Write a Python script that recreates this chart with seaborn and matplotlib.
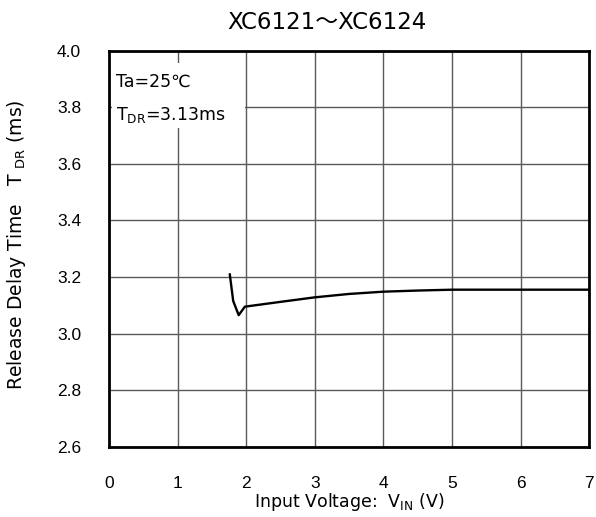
import numpy as np
import pandas as pd
import matplotlib
matplotlib.use("Agg")
import matplotlib.pyplot as plt
from matplotlib.patches import Rectangle
import seaborn as sns

# values
vin = [1.76, 1.81, 1.89, 1.98, 2.5, 3.0, 3.5, 4.0, 4.5, 5.0, 6.0, 7.0]
tdr = [3.21, 3.115, 3.065, 3.095, 3.112, 3.128, 3.14, 3.148, 3.152, 3.155, 3.155, 3.155]
x_ticks = [0, 1, 2, 3, 4, 5, 6, 7]
y_ticks = [2.6, 2.8, 3.0, 3.2, 3.4, 3.6, 3.8, 4.0]

sns.set_style("white")
plt.rcParams['font.family'] = ['Liberation Sans', 'DejaVu Sans']
plt.rcParams['text.color'] = 'black'
plt.rcParams['axes.labelcolor'] = 'black'
lab = ['DejaVu Sans', 'Noto Sans CJK JP']

df = pd.DataFrame({'vin': vin, 'tdr': tdr})

fig = plt.figure(figsize=(5.96, 5.17), dpi=100)
ax = fig.add_axes([0.1829, 0.136, 0.8059, 0.766])

ax.set_xlim(0, 7)
ax.set_ylim(2.6, 4.0)
ax.set_xticks(x_ticks)
ax.set_yticks(y_ticks)
ax.set_xticklabels([str(v) for v in x_ticks])
ax.set_yticklabels(['%.1f' % v for v in y_ticks])
ax.grid(True, color='#5a5a5a', linewidth=1.0)
ax.tick_params(axis='both', length=0, labelsize=12.5, colors='black')
ax.tick_params(axis='x', pad=21)
ax.tick_params(axis='y', pad=20)

for s in ax.spines.values():
    s.set_visible(True)
    s.set_color('black')
    s.set_linewidth(2)
    s.set_zorder(5)

sns.lineplot(data=df, x='vin', y='tdr', ax=ax, color='black', linewidth=1.7,
             estimator=None, sort=False)

ax.set_xlabel(r'Input Voltage:  V$\mathregular{_{IN}}$ (V)', family=lab, fontsize=12.5)
ax.xaxis.set_label_coords(0.5, -0.112)
ax.set_ylabel(r'Release Delay Time   T $\mathregular{_{DR}}$ (ms)', family=lab, fontsize=13.5)
ax.yaxis.set_label_coords(-0.168, 0.51)
fig.text(0.549, 0.957, 'XC6121～XC6124', family=lab, fontsize=16.5,
         ha='center', va='center')

# white patch behind the conditions text
ax.add_patch(Rectangle((0.006, 0.805), 0.277, 0.163, transform=ax.transAxes,
                       facecolor='white', edgecolor='none', zorder=3))
ax.text(0.015, 0.921, 'Ta=25℃', transform=ax.transAxes, ha='left', va='center',
        fontsize=12.5, family=lab, zorder=4)
ax.text(0.015, 0.838, r'T$\mathregular{_{DR}}$=3.13ms', transform=ax.transAxes,
        ha='left', va='center', fontsize=12.5, family=lab, zorder=4)

fig.savefig('out.png', dpi=100)
